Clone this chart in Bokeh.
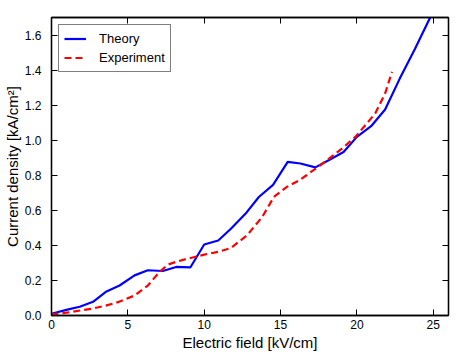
from bokeh.plotting import figure
from bokeh.models import LinearAxis, Range1d, FixedTicker, Legend, LegendItem, NumeralTickFormatter
from bokeh.embed import file_html
from bokeh.resources import INLINE

theory_x = [0.0, 1.1, 1.85, 2.72, 3.6, 4.46, 5.44, 6.31, 7.29, 8.16, 9.09, 10.0, 10.92,
            11.75, 12.7, 13.58, 14.51, 15.47, 16.3, 17.28, 18.15, 19.13, 20.0, 20.93,
            21.85, 22.8, 23.8, 24.8, 25.7]
theory_y = [0.01, 0.035, 0.05, 0.078, 0.137, 0.171, 0.229, 0.258, 0.254, 0.277, 0.274,
            0.405, 0.428, 0.495, 0.58, 0.676, 0.745, 0.876, 0.867, 0.845, 0.886, 0.933,
            1.019, 1.08, 1.175, 1.35, 1.52, 1.70, 1.86]

exp_x = [0.0, 1.1, 2.6, 3.5, 4.35, 5.44, 6.31, 7.07, 7.62, 8.3, 8.92, 10.0, 11.0, 11.75,
         12.8, 13.8, 14.56, 15.4, 16.2, 16.7, 17.9, 19.0, 19.9, 21.2, 21.85, 22.3]
exp_y = [0.005, 0.018, 0.038, 0.055, 0.076, 0.114, 0.171, 0.248, 0.29, 0.31, 0.324, 0.347,
         0.365, 0.385, 0.457, 0.562, 0.676, 0.733, 0.77, 0.8, 0.876, 0.95, 1.019, 1.152,
         1.267, 1.39]

x_ticks = [0, 5, 10, 15, 20, 25]
y_ticks = [0.0, 0.2, 0.4, 0.6, 0.8, 1.0, 1.2, 1.4, 1.6]

FONT = "Liberation Sans"

p = figure(width=456, height=354, output_backend="svg", toolbar_location=None,
           x_range=Range1d(0, 26), y_range=Range1d(0, 1.7),
           min_border_left=50, min_border_right=8, min_border_top=17, min_border_bottom=39)
p.xgrid.visible = False
p.ygrid.visible = False
p.outline_line_color = "black"
p.outline_line_width = 1.3
p.background_fill_color = "white"
p.border_fill_color = "white"

def style_axis(ax):
    ax.major_tick_in = 6
    ax.major_tick_out = 0
    ax.minor_tick_in = 0
    ax.minor_tick_out = 0
    ax.axis_line_color = "black"
    ax.axis_line_width = 1.3
    ax.major_tick_line_color = "black"
    ax.major_tick_line_width = 1
    ax.major_label_text_font = FONT
    ax.major_label_text_font_size = "12px"
    ax.major_label_text_color = "black"
    ax.axis_label_text_font = FONT
    ax.axis_label_text_font_size = "15px"
    ax.axis_label_text_font_style = "normal"
    ax.axis_label_text_color = "black"

p.xaxis.ticker = FixedTicker(ticks=x_ticks)
p.yaxis.ticker = FixedTicker(ticks=y_ticks)
p.yaxis.formatter = NumeralTickFormatter(format="0.0")
p.xaxis.axis_label = "Electric field [kV/cm]"
p.yaxis.axis_label = "Current density [kA/cm²]"
style_axis(p.xaxis[0])
style_axis(p.yaxis[0])
p.xaxis.major_label_standoff = 4
p.yaxis.major_label_standoff = 10
p.xaxis.axis_label_standoff = 2
p.yaxis.axis_label_standoff = 1

top = LinearAxis(ticker=FixedTicker(ticks=x_ticks),
                 major_label_overrides={t: "" for t in x_ticks})
right = LinearAxis(ticker=FixedTicker(ticks=y_ticks),
                   major_label_overrides={t: "" for t in y_ticks})
style_axis(top)
style_axis(right)
top.major_label_standoff = 0
right.major_label_standoff = 0
p.add_layout(top, "above")
p.add_layout(right, "right")

r1 = p.line(theory_x, theory_y, line_color="blue", line_width=2.2)
r2 = p.line(exp_x, exp_y, line_color="red", line_width=2.2, line_dash="7 4")

legend = Legend(items=[LegendItem(label="Theory", renderers=[r1]),
                       LegendItem(label="Experiment", renderers=[r2])],
                location="top_left")
legend.margin = 7
legend.padding = 5
legend.spacing = 2
legend.glyph_width = 22
legend.glyph_height = 17
legend.label_height = 17
legend.label_standoff = 13
legend.label_text_font = FONT
legend.label_text_font_size = "13px"
legend.label_text_color = "black"
legend.border_line_color = "black"
legend.border_line_width = 1.3
legend.background_fill_alpha = 1
p.add_layout(legend)

open("out.html", "w").write(file_html(p, INLINE))
